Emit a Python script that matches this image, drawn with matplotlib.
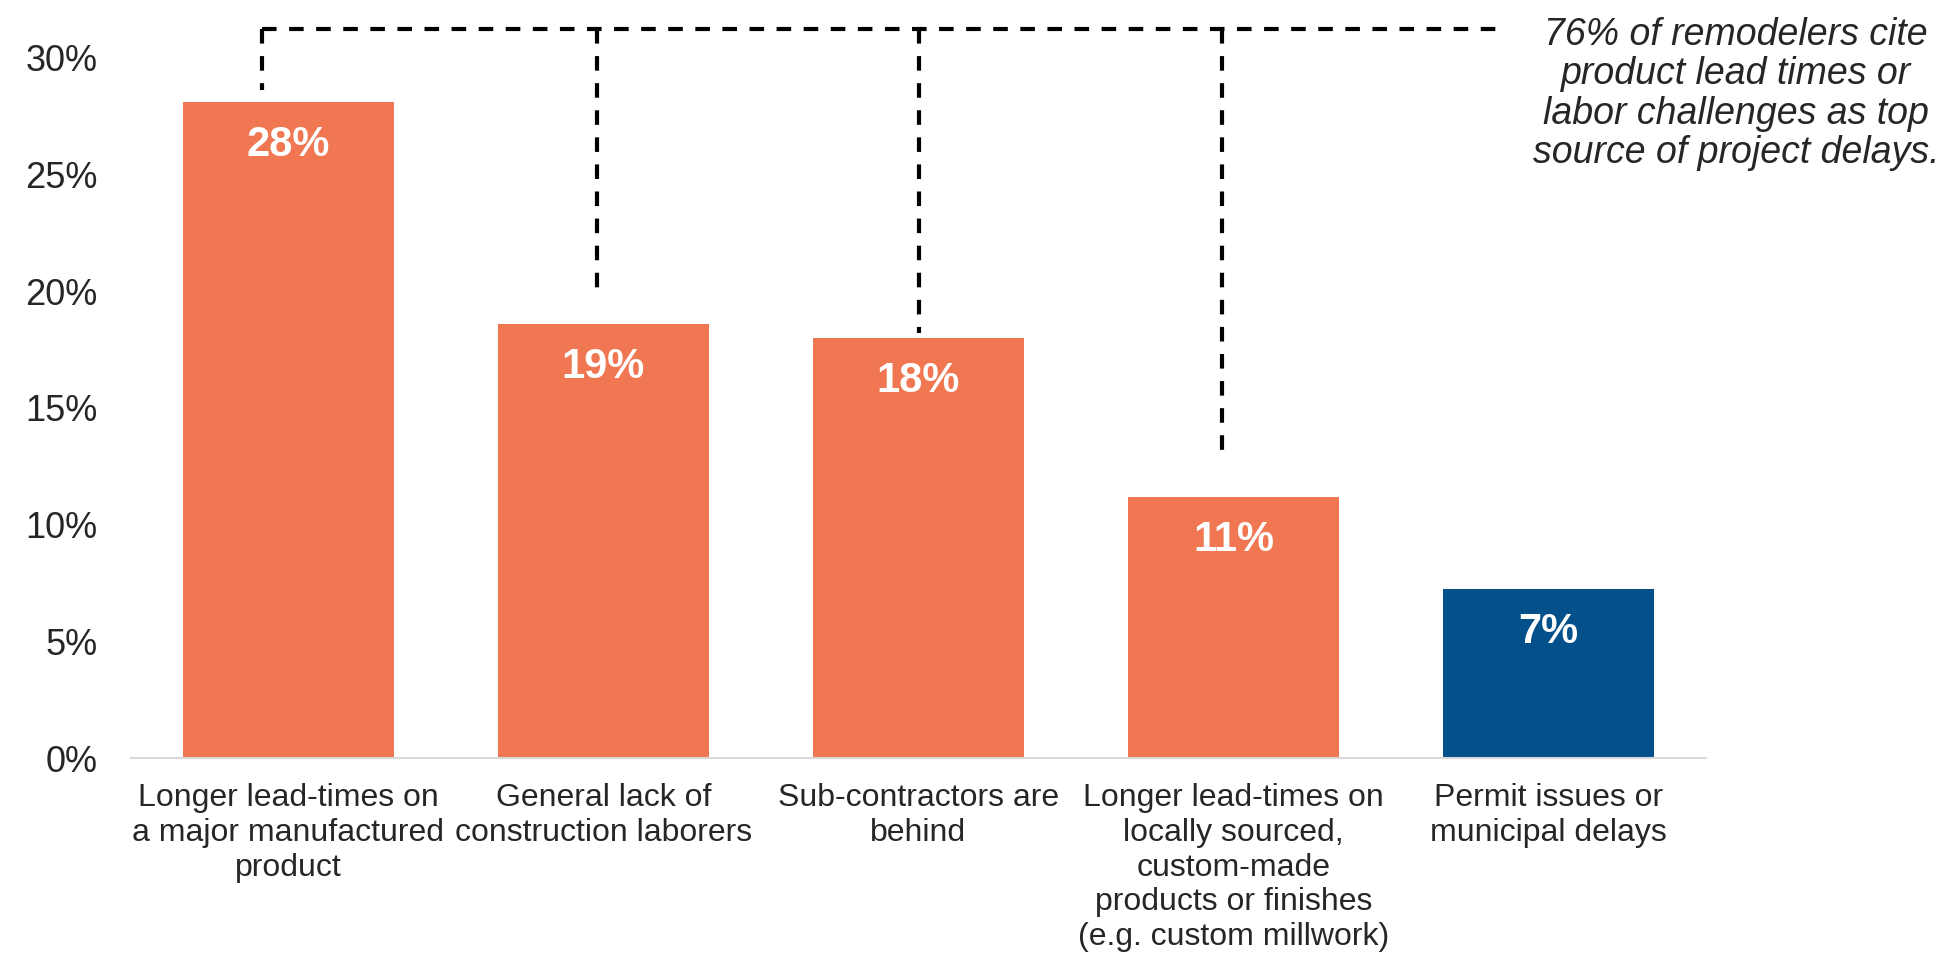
import numpy as np
import matplotlib.pyplot as plt
from matplotlib.lines import Line2D

# Share of remodelers citing each as top source of project delays
categories = [
    'Longer lead-times on\na major manufactured\nproduct',
    'General lack of\nconstruction laborers',
    'Sub-contractors are\nbehind',
    'Longer lead-times on\nlocally sourced,\ncustom-made\nproducts or finishes\n(e.g. custom millwork)',
    'Permit issues or\nmunicipal delays',
]
values = [28.1, 18.6, 18.0, 11.2, 7.25]
value_labels = ['28%', '19%', '18%', '11%', '7%']
bar_colors = ['#F07751', '#F07751', '#F07751', '#F07751', '#03508A']

note = ('76% of remodelers cite\nproduct lead times or\n'
        'labor challenges as top\nsource of project delays.')

plt.rcParams['font.family'] = ['Liberation Sans', 'DejaVu Sans']

fig = plt.figure(figsize=(19.58, 9.59), dpi=100)
ax = fig.add_axes([131 / 1958, 1 - 758 / 959, (1706 - 131) / 1958, 747 / 959])

x = np.arange(len(categories))
ax.bar(x, values, width=0.667, color=bar_colors, zorder=2)

# value labels inside the bars
for xi, v, lab in zip(x, values, value_labels):
    ax.annotate(lab, (xi, v), xytext=(0, -43), textcoords='offset pixels',
                ha='center', va='center', color='white', fontsize=30,
                fontweight='bold')

ax.set_xlim(-0.5, 4.5)
ax.set_ylim(0, 32)
ax.set_yticks(np.arange(0, 31, 5))
ax.set_yticklabels([f'{t}%' for t in range(0, 31, 5)])
ax.set_xticks(x)
ax.set_xticklabels(categories, linespacing=1.21)
ax.tick_params(axis='y', length=0, pad=24, labelsize=26, labelcolor='#262626')
ax.tick_params(axis='x', length=0, pad=18, labelsize=23, labelcolor='#262626')

for side in ['top', 'right', 'left']:
    ax.spines[side].set_visible(False)
ax.spines['bottom'].set_color('#D9D9D9')
ax.spines['bottom'].set_linewidth(1.5)

# dashed bracket linking the lead-time / labor bars
link_x = [-0.083, 0.978, 2.003, 2.962]
link_bottom = [28.6, 19.8, 18.2, 12.95]
link_top = 31.25
dash = dict(color='black', lw=3, linestyle=(0, (3.5, 3)), clip_on=False)
for lx, lb in zip(link_x, link_bottom):
    ax.add_line(Line2D([lx, lx], [link_top, lb], **dash))
ax.add_line(Line2D([link_x[0], 3.85], [link_top, link_top], **dash))

fig.text(1736 / 1958, 1 - 94 / 959, note, ha='center', va='center',
         fontsize=27, style='italic', color='#262626', linespacing=1.11)

fig.savefig('out.png', dpi=100)
